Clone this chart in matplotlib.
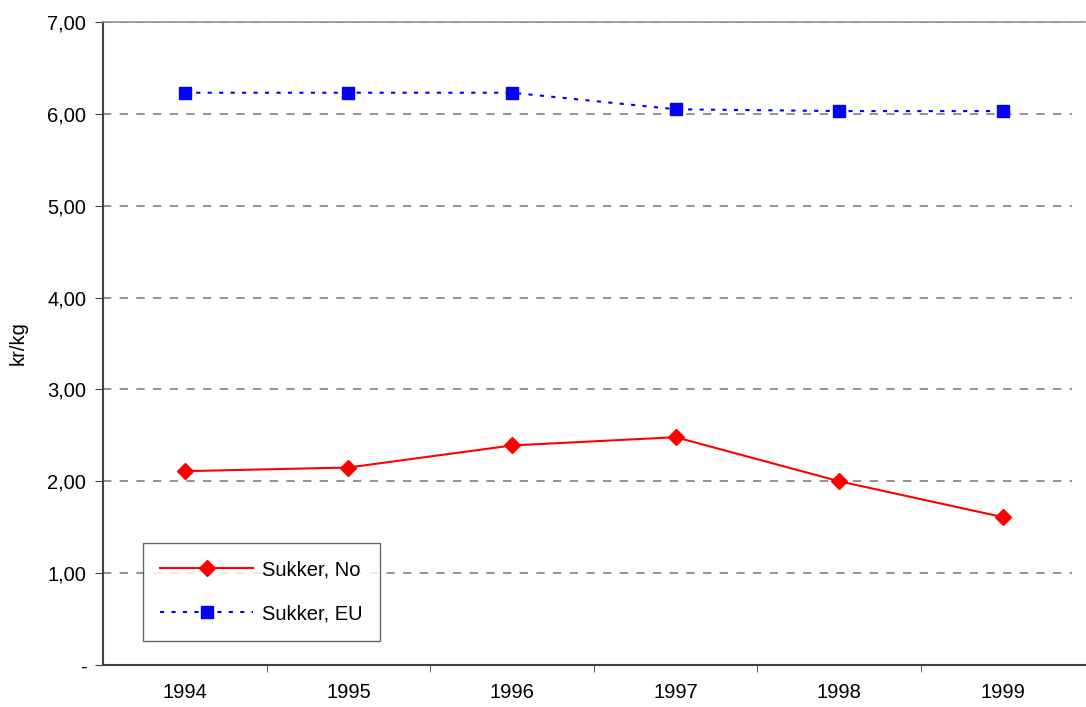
import numpy as np
import matplotlib.pyplot as plt

plt.rcParams['font.family'] = ['Liberation Sans', 'DejaVu Sans']

years = ['1994', '1995', '1996', '1997', '1998', '1999']
sukker_no = [2.11, 2.15, 2.39, 2.48, 2.00, 1.61]
sukker_eu = [6.23, 6.23, 6.23, 6.05, 6.03, 6.03]
yticks = [0, 1, 2, 3, 4, 5, 6, 7]
ylabels = ['-', '1,00', '2,00', '3,00', '4,00', '5,00', '6,00', '7,00']

fig = plt.figure(figsize=(10.86, 7.07), dpi=100)
ax = fig.add_axes([0.0948, 0.0594, 0.904, 0.9095])

x = np.arange(len(years))
for y in yticks[1:]:
    ax.axhline(y, xmin=0, xmax=0.987, color='#808080', lw=1.2,
               linestyle=(0, (5, 5)), zorder=1)

ax.plot(x, sukker_no, color='#ff0000', lw=1.5, marker='D', markersize=8.5,
        label='Sukker, No', zorder=3)
ax.plot(x, sukker_eu, color='#0000ff', lw=1.5, linestyle=(0, (2, 3.5)),
        marker='s', markersize=8.5, label='Sukker, EU', zorder=3)

ax.set_xlim(-0.5, 5.5)
ax.set_ylim(0, 7)
ax.set_xticks(x)
ax.set_xticklabels(years, fontsize=14.5)
ax.set_xticks(np.arange(0.5, 5.0, 1.0), minor=True)
ax.tick_params(axis='x', which='major', length=0, pad=13)
ax.tick_params(axis='x', which='minor', length=5, direction='out', color='#404040')
ax.set_yticks(yticks)
ax.set_yticklabels(ylabels, fontsize=14.5)
ax.tick_params(axis='y', length=6, direction='out', color='#404040', pad=6)
ax.set_ylabel('kr/kg', fontsize=14.5, labelpad=14)

ax.spines['right'].set_visible(False)
ax.spines['top'].set_color('#909090')
ax.spines['top'].set_linewidth(1.2)
ax.spines['left'].set_color('#404040')
ax.spines['left'].set_linewidth(1.5)
ax.spines['bottom'].set_color('#404040')
ax.spines['bottom'].set_linewidth(1.5)

leg = ax.legend(loc='lower left', bbox_to_anchor=(0.041, 0.038), fontsize=14.5,
                frameon=True, fancybox=False, edgecolor='#404040',
                borderpad=0.85, labelspacing=1.25, handlelength=4.6,
                handletextpad=0.45, borderaxespad=0)
leg.get_frame().set_linewidth(1.0)

fig.savefig('out.png', dpi=100)
